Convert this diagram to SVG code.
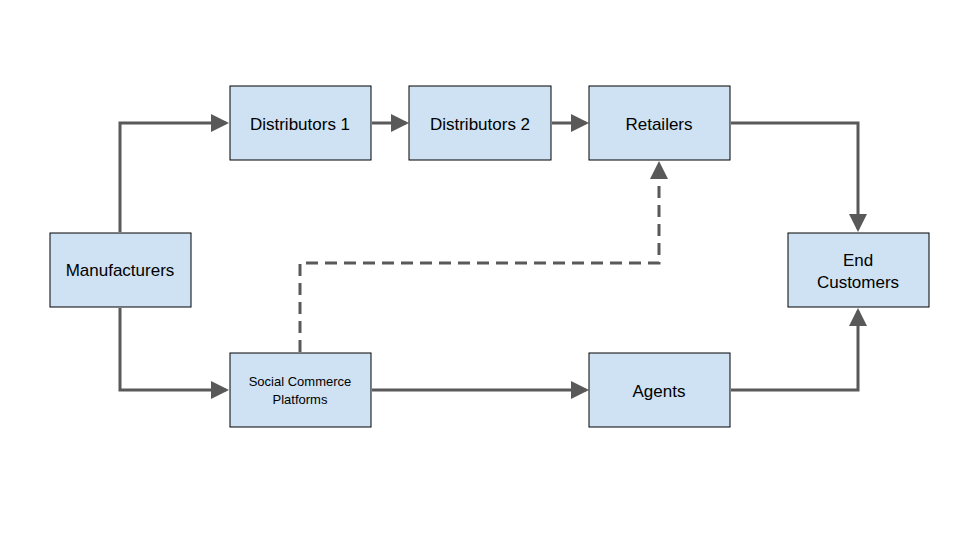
<svg xmlns="http://www.w3.org/2000/svg" width="960" height="540" viewBox="0 0 960 540">
<style>
.n{fill:#cfe2f3;stroke:#000;stroke-width:1}
.t{font-family:"Liberation Sans",Arial,sans-serif;font-size:17px;fill:#000;text-anchor:middle}
.s{font-size:13px}
.c{fill:none;stroke:#595959;stroke-width:3}
.d{stroke-dasharray:12,7}
</style>
<defs><marker id="a" markerWidth="6" markerHeight="6" refX="5" refY="3" orient="auto" markerUnits="strokeWidth"><path d="M0,0L6,3L0,6z" fill="#595959"/></marker></defs>
<rect width="960" height="540" fill="#fff"/>
<g id="connectors">
<path class="c" d="M120,232V123H226" marker-end="url(#a)"/>
<path class="c" d="M372,123H406" marker-end="url(#a)"/>
<path class="c" d="M552,123H586" marker-end="url(#a)"/>
<path class="c" d="M731,123H858V229" marker-end="url(#a)"/>
<path class="c" d="M120,308V390H226" marker-end="url(#a)"/>
<path class="c" d="M372,390H586" marker-end="url(#a)"/>
<path class="c" d="M731,390H858V311" marker-end="url(#a)"/>
<path class="c d" d="M300,352V263H659V164" marker-end="url(#a)"/>
</g>
<g id="manufacturers"><rect class="n" x="50" y="233" width="141" height="74"/><text class="t" x="120" y="276">Manufacturers</text></g>
<g id="dist1"><rect class="n" x="230" y="86" width="141" height="74"/><text class="t" x="300" y="130">Distributors 1</text></g>
<g id="dist2"><rect class="n" x="409" y="86" width="142" height="74"/><text class="t" x="480" y="130">Distributors 2</text></g>
<g id="retailers"><rect class="n" x="589" y="86" width="141" height="74"/><text class="t" x="659" y="130">Retailers</text></g>
<g id="end"><rect class="n" x="788" y="233" width="141" height="74"/><text class="t" x="858" y="266">End</text><text class="t" x="858" y="288">Customers</text></g>
<g id="social"><rect class="n" x="230" y="353" width="141" height="74"/><text class="t s" x="300" y="386">Social Commerce</text><text class="t s" x="300" y="404">Platforms</text></g>
<g id="agents"><rect class="n" x="589" y="353" width="141" height="74"/><text class="t" x="659" y="397">Agents</text></g>
</svg>
